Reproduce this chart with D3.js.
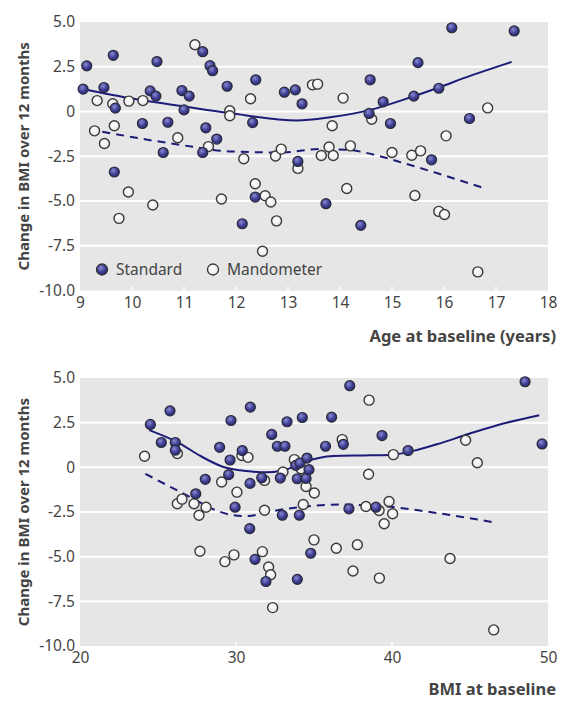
<!DOCTYPE html>
<html>
<head>
  <meta charset="utf-8">
</head>
<body style="margin: 0; background: #fff">
  <script src="https://d3js.org/d3.v7.min.js"></script>

  <script>
    // age at baseline vs change in BMI
    const ageStandard = [
      [9.06, 1.25], [9.13, 2.55], [9.46, 1.34], [9.64, 3.14], [9.68, 0.19], [9.66, -3.38],
      [10.2, -0.67], [10.35, 1.15], [10.46, 0.86], [10.48, 2.79], [10.6, -2.29], [10.69, -0.6],
      [10.96, 1.17], [11.0, 0.09], [11.1, 0.86], [11.36, 3.34], [11.36, -2.29], [11.42, -0.91],
      [11.5, 2.56], [11.55, 2.28], [11.63, -1.54], [11.83, 1.41], [12.12, -6.27], [12.32, -0.62],
      [12.37, -4.78], [12.38, 1.77], [12.93, 1.08], [13.14, 1.21], [13.19, -2.79], [13.27, 0.43],
      [13.73, -5.15], [14.4, -6.36], [14.56, -0.11], [14.58, 1.77], [14.83, 0.54], [14.97, -0.67],
      [15.42, 0.86], [15.5, 2.73], [15.76, -2.7], [15.9, 1.3], [16.15, 4.68], [16.49, -0.39],
      [17.35, 4.5]
    ];
    const ageMandometer = [
      [9.28, -1.08], [9.33, 0.61], [9.47, -1.79], [9.63, 0.43], [9.66, -0.8], [9.75, -5.97],
      [9.93, -4.5], [9.94, 0.58], [10.21, 0.61], [10.4, -5.22], [10.88, -1.47], [11.21, 3.73],
      [11.47, -1.96], [11.72, -4.89], [11.88, 0.04], [11.88, -0.24], [12.15, -2.64], [12.28, 0.71],
      [12.37, -4.04], [12.51, -7.81], [12.56, -4.71], [12.67, -5.06], [12.76, -2.49], [12.78, -6.11],
      [12.87, -2.1], [13.19, -3.18], [13.47, 1.49], [13.57, 1.53], [13.64, -2.46], [13.79, -1.98],
      [13.85, -0.8], [13.87, -2.46], [14.06, 0.75], [14.13, -4.3], [14.2, -1.92], [14.61, -0.43],
      [15.0, -2.29], [15.38, -2.44], [15.44, -4.69], [15.55, -2.2], [15.9, -5.58], [16.01, -5.75],
      [16.04, -1.36], [16.65, -8.96], [16.84, 0.2]
    ];
    const ageStandardFit = [
      [9.06, 1.26], [10.03, 0.71], [10.92, 0.32], [11.88, -0.09], [13.17, -0.5], [13.81, -0.32],
      [14.58, 0.09], [15.21, 0.65], [15.86, 1.3], [16.5, 1.99], [17.3, 2.77]
    ];
    const ageMandometerFit = [
      [9.43, -1.13], [10.35, -1.6], [10.92, -1.86], [11.88, -2.23], [12.85, -2.29], [13.62, -2.1],
      [14.13, -2.14], [14.77, -2.5], [15.22, -2.88], [15.86, -3.44], [16.82, -4.33]
    ];

    // BMI at baseline vs change in BMI
    const bmiStandard = [
      [24.51, 2.4], [25.21, 1.39], [25.77, 3.16], [26.11, 1.39], [26.11, 0.96], [27.42, -1.48],
      [28.03, -0.67], [28.95, 1.12], [29.53, -0.41], [29.62, 0.41], [29.68, 2.62], [29.94, -2.23],
      [30.4, 0.94], [30.88, -3.43], [30.9, -0.9], [30.92, 3.37], [31.22, -5.15], [31.65, -0.58],
      [31.92, -6.39], [32.29, 1.84], [32.65, 1.18], [32.84, -0.6], [32.97, -2.68], [33.14, 1.18],
      [33.27, 2.55], [33.83, 0.11], [33.93, -0.64], [33.93, -6.27], [34.06, -2.68], [34.1, 0.24],
      [34.25, 2.79], [34.49, -0.62], [34.55, 0.52], [34.68, -0.13], [34.79, -4.81], [35.74, 1.18],
      [36.13, 2.81], [36.88, 1.29], [37.24, -2.32], [37.29, 4.57], [38.97, -2.23], [39.36, 1.78],
      [41.03, 0.94], [48.53, 4.79], [49.62, 1.31]
    ];
    const bmiMandometer = [
      [24.14, 0.62], [26.24, 0.77], [26.24, -2.04], [26.54, -1.78], [27.31, -2.04], [27.63, -2.68],
      [27.69, -4.7], [28.08, -2.23], [29.08, -0.82], [29.29, -5.28], [29.87, -4.9], [30.06, -1.39],
      [30.38, 0.66], [30.77, 0.56], [31.69, -4.72], [31.83, -0.73], [31.83, -2.4], [32.09, -5.58],
      [32.22, -6.01], [32.35, -7.85], [33.01, -0.26], [33.74, 0.43], [34.17, -0.08], [34.31, -2.08],
      [34.49, -1.07], [35.0, -4.06], [35.02, -1.44], [36.43, -4.53], [36.81, 1.55], [37.5, -5.8],
      [37.78, -4.33], [38.33, -2.19], [38.5, -0.39], [38.53, 3.76], [39.17, -2.42], [39.19, -6.2],
      [39.5, -3.16], [39.81, -1.91], [40.04, -2.6], [40.09, 0.71], [43.72, -5.1], [44.72, 1.52],
      [45.47, 0.26], [46.52, -9.1]
    ];
    const bmiStandardFit = [
      [24.44, 2.08], [26.41, 1.33], [27.69, 0.65], [29.19, 0.02], [30.69, -0.21], [31.97, -0.28],
      [32.82, -0.21], [33.67, 0.02], [34.53, 0.34], [35.38, 0.54], [36.24, 0.63], [38.59, 0.67],
      [40.09, 0.71], [41.37, 0.92], [42.87, 1.29], [45.0, 1.89], [47.14, 2.45], [49.44, 2.92]
    ];
    const bmiMandometerFit = [
      [24.19, -0.36], [27.27, -1.76], [28.76, -2.42], [29.83, -2.68], [30.79, -2.73], [31.75, -2.56],
      [32.82, -2.38], [34.53, -2.19], [36.67, -2.08], [38.38, -2.13], [39.65, -2.19], [41.79, -2.42],
      [43.93, -2.7], [46.49, -3.07]
    ];

    const yTicks = [5, 2.5, 0, -2.5, -5, -7.5, -10];
    const ageTicks = [9, 10, 11, 12, 13, 14, 15, 16, 17, 18];
    const bmiTicks = [20, 30, 40, 50];
    const legendLabels = ["Standard", "Mandometer"];

    const yTitle = "Change in BMI over 12 months";
    const FONT = "'Noto Sans', sans-serif";
    const TEXT = "#444";
    const NAVY = "#1c1c78";

    const drawPanel = (svg, opts) => {
      const g = svg.append("g");
      const x = d3.scaleLinear().domain(opts.xDomain).range([80, 548]);
      const y = d3.scaleLinear().domain([-10, 5]).range([opts.bottom, opts.top]);

      g.append("rect")
        .attr("x", 80).attr("y", opts.top)
        .attr("width", 468).attr("height", opts.bottom - opts.top)
        .style("fill", "#e6e6e6");

      // grid lines
      g.selectAll("line.grid")
        .data(yTicks.filter((d) => {return d > -10 && d < 5;}))
        .enter().append("line")
        .attr("x1", 80).attr("x2", 548)
        .attr("y1", (d) => {return y(d);}).attr("y2", (d) => {return y(d);})
        .style("stroke", "#fff").style("stroke-width", 2);

      // y axis labels, plain hyphen for minus like the original
      const yAxis = g.append("g")
        .attr("transform", "translate(80,0)")
        .call(d3.axisLeft(y).tickValues(yTicks).tickSize(0).tickPadding(5)
          .tickFormat((d) => {return d === 0 ? "0" : d.toFixed(1);}));
      yAxis.select(".domain").remove();
      yAxis.selectAll("text")
        .style("font-family", FONT).style("font-size", "15.5px").style("fill", TEXT);

      // x axis
      const xAxis = g.append("g")
        .attr("transform", "translate(0," + opts.bottom + ")")
        .call(d3.axisBottom(x).tickValues(opts.xTicks).tickSize(0).tickPadding(6)
          .tickFormat(d3.format("d")));
      xAxis.select(".domain").remove();
      xAxis.selectAll("text")
        .style("font-family", FONT).style("font-size", "15.5px").style("fill", TEXT);

      // small white ticks inside the plot
      g.selectAll("line.xtick")
        .data(opts.xTicks.slice(1, -1))
        .enter().append("line")
        .attr("x1", (d) => {return x(d);}).attr("x2", (d) => {return x(d);})
        .attr("y1", opts.bottom - 4).attr("y2", opts.bottom)
        .style("stroke", "#fff").style("stroke-width", 1.5);

      // fitted lines
      const line = d3.line()
        .x((d) => {return x(d[0]);})
        .y((d) => {return y(d[1]);})
        .curve(d3.curveMonotoneX);

      g.append("path").datum(opts.stdFit)
        .attr("d", line)
        .style("fill", "none").style("stroke", NAVY).style("stroke-width", 2);
      g.append("path").datum(opts.manFit)
        .attr("d", line)
        .style("fill", "none").style("stroke", NAVY).style("stroke-width", 2)
        .style("stroke-dasharray", "8,6");

      g.selectAll("circle.man")
        .data(opts.man)
        .enter().append("circle")
        .attr("cx", (d) => {return x(d[0]);})
        .attr("cy", (d) => {return y(d[1]);})
        .attr("r", 5)
        .style("fill", "url(#openGrad)")
        .style("stroke", "#3a3a3a").style("stroke-width", 1.4);

      g.selectAll("circle.std")
        .data(opts.std)
        .enter().append("circle")
        .attr("cx", (d) => {return x(d[0]);})
        .attr("cy", (d) => {return y(d[1]);})
        .attr("r", 5)
        .style("fill", "url(#fillGrad)")
        .style("stroke", "#2a2a3a").style("stroke-width", 1.2);

      // axis titles
      g.append("text")
        .attr("transform", "translate(29," + ((opts.top + opts.bottom) / 2) + ") rotate(-90)")
        .attr("text-anchor", "middle")
        .style("font-family", FONT).style("font-weight", "bold").style("font-size", "15px")
        .style("fill", TEXT)
        .text(yTitle);

      g.append("text")
        .attr("x", 556).attr("y", opts.bottom + opts.titleGap)
        .attr("text-anchor", "end")
        .style("font-family", FONT).style("font-weight", "bold").style("font-size", "16.5px")
        .style("fill", TEXT)
        .text(opts.xTitle);

      if (opts.legend) {
        const leg = g.append("g").attr("transform", "translate(0," + (opts.bottom - 21) + ")");
        const items = leg.selectAll("g")
          .data(legendLabels)
          .enter().append("g")
          .attr("transform", (d, i) => {return "translate(" + (i === 0 ? 102 : 213) + ",0)";});
        items.append("circle")
          .attr("r", 5.5)
          .style("fill", (d, i) => {return i === 0 ? "url(#fillGrad)" : "url(#openGrad)";})
          .style("stroke", "#333").style("stroke-width", 1.3);
        items.append("text")
          .attr("x", 14).attr("dy", "0.35em")
          .style("font-family", FONT).style("font-size", "15.5px").style("fill", TEXT)
          .text((d) => {return d;});
      }
    };

    const start = () => {
      const svg = d3.select("body").append("svg")
        .attr("width", 574)
        .attr("height", 701);

      const defs = svg.append("defs");
      const fg = defs.append("radialGradient").attr("id", "fillGrad")
        .attr("cx", "40%").attr("cy", "35%").attr("r", "65%");
      fg.append("stop").attr("offset", "0%").attr("stop-color", "#8a8ad0");
      fg.append("stop").attr("offset", "60%").attr("stop-color", "#3f3f96");
      fg.append("stop").attr("offset", "100%").attr("stop-color", "#2c2c70");
      const og = defs.append("radialGradient").attr("id", "openGrad")
        .attr("cx", "40%").attr("cy", "35%").attr("r", "65%");
      og.append("stop").attr("offset", "0%").attr("stop-color", "#ffffff");
      og.append("stop").attr("offset", "100%").attr("stop-color", "#e8e8e8");

      drawPanel(svg, {
        top: 22, bottom: 290.5, xDomain: [9, 18], xTicks: ageTicks,
        std: ageStandard, man: ageMandometer,
        stdFit: ageStandardFit, manFit: ageMandometerFit,
        xTitle: "Age at baseline (years)", titleGap: 51, legend: true
      });

      drawPanel(svg, {
        top: 378, bottom: 646, xDomain: [20, 50], xTicks: bmiTicks,
        std: bmiStandard, man: bmiMandometer,
        stdFit: bmiStandardFit, manFit: bmiMandometerFit,
        xTitle: "BMI at baseline", titleGap: 49, legend: false
      });
    };

    document.addEventListener("DOMContentLoaded", () => {
      start();
    }, false);
  </script>
</body>
</html>
